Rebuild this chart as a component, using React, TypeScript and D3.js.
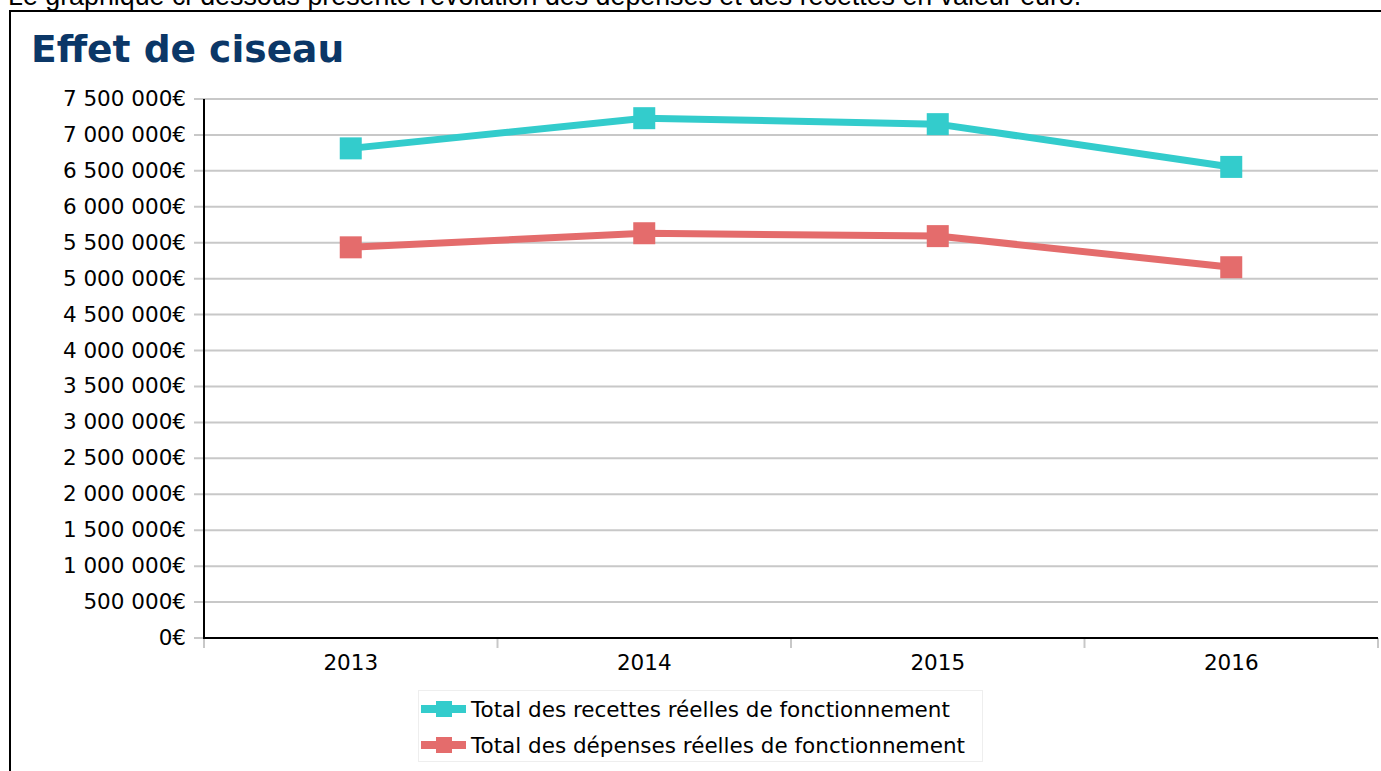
import React, { useEffect, useRef } from "react";
import * as d3 from "d3";

const years = ["2013", "2014", "2015", "2016"];
const recettes = [6813000, 7233000, 7150000, 6555000];
const depenses = [5436000, 5632000, 5592000, 5159000];
const yTicks = [0, 500000, 1000000, 1500000, 2000000, 2500000, 3000000, 3500000, 4000000, 4500000, 5000000, 5500000, 6000000, 6500000, 7000000, 7500000];

const series = [
  { name: "Total des recettes réelles de fonctionnement", values: recettes, color: "#33cccc" },
  { name: "Total des dépenses réelles de fonctionnement", values: depenses, color: "#e46c6c" },
];

const W = 1381;
const H = 771;
const FONT = "'DejaVu Sans', sans-serif";

const frLocale = d3.formatLocale({
  decimal: ",",
  thousands: " ",
  grouping: [3],
  currency: ["", "€"],
});
const fmt = frLocale.format("$,.0f");

const App = () => {
  const ref = useRef<SVGSVGElement | null>(null);

  useEffect(() => {
    const svg = d3.select(ref.current);
    svg.selectAll("*").remove();

    // intro text, clipped by the top of the page
    svg
      .append("text")
      .attr("x", 8)
      .attr("y", 5)
      .style("font-family", "'Liberation Sans', Arial, sans-serif")
      .style("font-size", "26.8px")
      .text("Le graphique ci-dessous présente l'évolution des dépenses et des recettes en valeur euro.");

    // frame
    svg
      .append("path")
      .attr("d", `M10,${H + 5}V11H${W + 5}`)
      .attr("fill", "none")
      .attr("stroke", "#000")
      .attr("stroke-width", 2);

    svg
      .append("text")
      .attr("x", 31)
      .attr("y", 62)
      .style("font-family", FONT)
      .style("font-weight", "bold")
      .style("font-size", "37.6px")
      .attr("fill", "#0b3767")
      .text("Effet de ciseau");

    const left = 204;
    const right = 1378;
    const top = 99;
    const bottom = 638;

    const x = d3.scaleBand().domain(years).range([left, right]).padding(0);
    const y = d3.scaleLinear().domain([0, 7500000]).range([bottom, top]);

    // gridlines
    svg
      .append("g")
      .selectAll("line")
      .data(yTicks)
      .enter()
      .append("line")
      .attr("x1", left - 10)
      .attr("x2", right)
      .attr("y1", (d) => y(d))
      .attr("y2", (d) => y(d))
      .attr("stroke", "#c8c8c8")
      .attr("stroke-width", 2);

    // y labels
    svg
      .append("g")
      .selectAll("text")
      .data(yTicks)
      .enter()
      .append("text")
      .attr("x", left - 18)
      .attr("y", (d) => y(d) + 7)
      .attr("text-anchor", "end")
      .style("font-family", FONT)
      .style("font-size", "21.5px")
      .text((d) => fmt(d));

    // x ticks at band edges
    const edges = years.map((d) => x(d) as number).concat([right]);
    svg
      .append("g")
      .selectAll("line")
      .data(edges)
      .enter()
      .append("line")
      .attr("x1", (d) => d)
      .attr("x2", (d) => d)
      .attr("y1", bottom)
      .attr("y2", bottom + 10)
      .attr("stroke", "#c8c8c8")
      .attr("stroke-width", 2);

    svg
      .append("g")
      .selectAll("text")
      .data(years)
      .enter()
      .append("text")
      .attr("x", (d) => (x(d) as number) + x.bandwidth() / 2)
      .attr("y", 670)
      .attr("text-anchor", "middle")
      .style("font-family", FONT)
      .style("font-size", "21.5px")
      .text((d) => d);

    // axis lines
    svg
      .append("path")
      .attr("d", `M${left},${top}V${bottom}H${right}`)
      .attr("fill", "none")
      .attr("stroke", "#000")
      .attr("stroke-width", 2);

    const line = d3
      .line<number>()
      .x((_, i) => (x(years[i]) as number) + x.bandwidth() / 2)
      .y((d) => y(d));

    series.forEach((s) => {
      svg
        .append("path")
        .attr("d", line(s.values))
        .attr("fill", "none")
        .attr("stroke", s.color)
        .attr("stroke-width", 7);
      svg
        .append("g")
        .selectAll("rect")
        .data(s.values)
        .enter()
        .append("rect")
        .attr("x", (_, i) => (x(years[i]) as number) + x.bandwidth() / 2 - 11)
        .attr("y", (d) => y(d) - 11)
        .attr("width", 22)
        .attr("height", 22)
        .attr("fill", s.color);
    });

    // legend
    const lg = svg.append("g");
    lg.append("rect")
      .attr("x", 418.5)
      .attr("y", 690.5)
      .attr("width", 564)
      .attr("height", 71)
      .attr("fill", "none")
      .attr("stroke", "#eeeeee");

    series.forEach((s, i) => {
      const cy = 709 + i * 36;
      lg.append("line")
        .attr("x1", 421)
        .attr("x2", 466)
        .attr("y1", cy)
        .attr("y2", cy)
        .attr("stroke", s.color)
        .attr("stroke-width", 8);
      lg.append("rect")
        .attr("x", 436)
        .attr("y", cy - 8)
        .attr("width", 16)
        .attr("height", 16)
        .attr("fill", s.color);
      lg.append("text")
        .attr("x", 471)
        .attr("y", cy + 7.5)
        .style("font-family", FONT)
        .style("font-size", "21.5px")
        .text(s.name);
    });
  }, []);

  return (
    <svg
      ref={ref}
      width={W}
      height={H}
      style={{ position: "absolute", left: 0, top: 0, background: "#fff" }}
    />
  );
};

export default App;
